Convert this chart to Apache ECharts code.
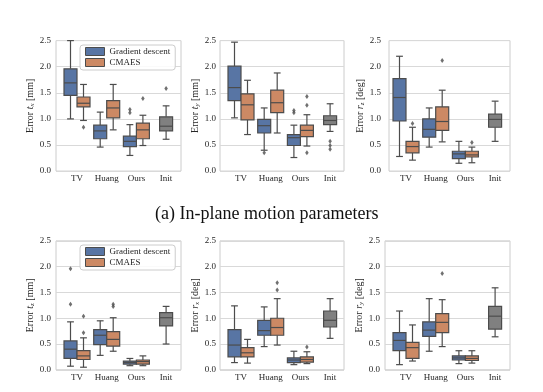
<!DOCTYPE html>
<html>
<head>
<meta charset="utf-8">
<script src="https://cdn.jsdelivr.net/npm/echarts@6/dist/echarts.min.js"></script>
<style>html,body{margin:0;padding:0;background:#fff;}#c{width:543px;height:392px;}</style>
</head>
<body>
<div id="c"></div>
<script>
// ---------- data ----------
const categories = ['TV', 'Huang', 'Ours', 'Init'];
const seriesNames = ['Gradient descent', 'CMAES'];
const caption = '(a) In-plane motion parameters';
// box data: [min, Q1, median, Q3, max] per category (TV, Huang, Ours)
const tx_gd = [[1.00, 1.45, 1.69, 1.96, 2.50], [0.46, 0.62, 0.77, 0.88, 1.13], [0.30, 0.47, 0.57, 0.67, 0.89]];
const tx_cm = [[0.97, 1.23, 1.30, 1.42, 1.66], [0.79, 1.02, 1.21, 1.35, 1.66], [0.49, 0.62, 0.79, 0.92, 1.07]];
const tx_init = [0.61, 0.77, 0.86, 1.04, 1.25];
const tx_gd_out = [[2, 1.18], [2, 1.12]];
const tx_cm_out = [[0, 0.84], [2, 1.39]];
const tx_init_out = [[3, 1.58]];

const ty_gd = [[1.02, 1.35, 1.60, 2.01, 2.47], [0.40, 0.73, 0.87, 0.99, 1.21], [0.26, 0.49, 0.64, 0.70, 0.88]];
const ty_cm = [[0.70, 0.98, 1.27, 1.48, 1.74], [0.73, 1.12, 1.31, 1.55, 1.88], [0.48, 0.66, 0.78, 0.88, 1.08]];
const ty_init = [0.76, 0.89, 0.97, 1.06, 1.29];
const ty_gd_out = [[1, 0.35], [2, 1.16], [2, 1.12]];
const ty_cm_out = [[2, 1.43], [2, 1.26], [2, 0.35]];
const ty_init_out = [[3, 0.57], [3, 0.49], [3, 0.42]];

const rz_gd = [[0.28, 0.96, 1.41, 1.77, 2.20], [0.46, 0.65, 0.80, 1.00, 1.21], [0.15, 0.24, 0.33, 0.38, 0.57]];
const rz_cm = [[0.21, 0.35, 0.47, 0.57, 0.84], [0.56, 0.78, 0.95, 1.23, 1.55], [0.16, 0.27, 0.31, 0.38, 0.46]];
const rz_init = [0.57, 0.84, 0.99, 1.09, 1.34];
const rz_gd_out = [];
const rz_cm_out = [[0, 0.91], [1, 2.12], [2, 0.55]];
const rz_init_out = [];

const tz_gd = [[0.07, 0.22, 0.40, 0.56, 0.93], [0.28, 0.49, 0.67, 0.78, 0.95], [0.08, 0.11, 0.14, 0.17, 0.22]];
const tz_cm = [[0.05, 0.20, 0.27, 0.37, 0.62], [0.36, 0.46, 0.59, 0.74, 1.01], [0.08, 0.11, 0.16, 0.19, 0.27]];
const tz_init = [0.50, 0.85, 1.01, 1.11, 1.23];
const tz_gd_out = [[0, 1.96], [0, 1.27]];
const tz_cm_out = [[0, 1.04], [0, 0.72], [1, 1.27], [1, 1.23]];
const tz_init_out = [];

const rx_gd = [[0.14, 0.25, 0.48, 0.78, 1.24], [0.45, 0.67, 0.76, 0.96, 1.22], [0.10, 0.14, 0.19, 0.23, 0.36]];
const rx_cm = [[0.13, 0.25, 0.33, 0.43, 0.59], [0.48, 0.67, 0.82, 1.00, 1.38], [0.12, 0.15, 0.20, 0.25, 0.35]];
const rx_init = [0.61, 0.83, 0.96, 1.14, 1.38];
const rx_gd_out = [];
const rx_cm_out = [[1, 1.69], [1, 1.55], [2, 0.44]];
const rx_init_out = [];

const ry_gd = [[0.10, 0.37, 0.57, 0.72, 1.14], [0.36, 0.65, 0.77, 0.93, 1.38], [0.12, 0.19, 0.23, 0.27, 0.37]];
const ry_cm = [[0.17, 0.22, 0.43, 0.53, 0.87], [0.45, 0.72, 0.92, 1.09, 1.36], [0.13, 0.18, 0.22, 0.27, 0.37]];
const ry_init = [0.64, 0.79, 1.04, 1.23, 1.59];
const ry_gd_out = [];
const ry_cm_out = [[1, 1.87]];
const ry_init_out = [];

// ---------- styling / layout ----------
const FONT = '"Liberation Serif", "DejaVu Serif", serif';
const BLUE = '#5875a4', ORANGE = '#cc8964', GRAY = '#808080', EDGE = '#4c4c4c';
const TXT = '#262626';
const BAND = 29.7, HALF = 6.5, CAP = 3.4;
const rows = [{top: 40.6, h: 130.5}, {top: 240.9, h: 128.9}];

const panels = [
  {row: 0, fl: 56, fr: 181, tv: 77, lm: 5, ng: 18, name: 'Error {i|t}{s|x} [mm]', gd: tx_gd, cm: tx_cm, init: tx_init, gdo: tx_gd_out, cmo: tx_cm_out, io: tx_init_out},
  {row: 0, fl: 220, fr: 344, tv: 241, lm: 4, ng: 19, name: 'Error {i|t}{s|y} [mm]', gd: ty_gd, cm: ty_cm, init: ty_init, gdo: ty_gd_out, cmo: ty_cm_out, io: ty_init_out},
  {row: 0, fl: 389, fr: 510, tv: 406, lm: 8, ng: 23, name: 'Error {i|r}{s|z} [deg]', gd: rz_gd, cm: rz_cm, init: rz_init, gdo: rz_gd_out, cmo: rz_cm_out, io: rz_init_out},
  {row: 1, fl: 56, fr: 181, tv: 77, lm: 5, ng: 18, name: 'Error {i|t}{s|z} [mm]', gd: tz_gd, cm: tz_cm, init: tz_init, gdo: tz_gd_out, cmo: tz_cm_out, io: tz_init_out},
  {row: 1, fl: 220, fr: 344, tv: 241, lm: 4, ng: 19, name: 'Error {i|r}{s|x} [deg]', gd: rx_gd, cm: rx_cm, init: rx_init, gdo: rx_gd_out, cmo: rx_cm_out, io: rx_init_out},
  {row: 1, fl: 385, fr: 510, tv: 406, lm: 5, ng: 18, name: 'Error {i|r}{s|y} [deg]', gd: ry_gd, cm: ry_cm, init: ry_init, gdo: ry_gd_out, cmo: ry_cm_out, io: ry_init_out}
];

function boxRender(off, fill) {
  return function (params, api) {
    const x = api.value(0);
    const ys = [1, 2, 3, 4, 5].map(function (j) { return api.coord([x, api.value(j)]); });
    const cx = ys[0][0] + off;
    const y = ys.map(function (q) { return q[1]; });
    const ls = {stroke: EDGE, lineWidth: 1.2};
    return {
      type: 'group',
      children: [
        {type: 'line', shape: {x1: cx, y1: y[0], x2: cx, y2: y[1]}, style: ls},
        {type: 'line', shape: {x1: cx, y1: y[3], x2: cx, y2: y[4]}, style: ls},
        {type: 'line', shape: {x1: cx - CAP, y1: y[0], x2: cx + CAP, y2: y[0]}, style: ls},
        {type: 'line', shape: {x1: cx - CAP, y1: y[4], x2: cx + CAP, y2: y[4]}, style: ls},
        {type: 'rect', shape: {x: cx - HALF, y: y[3], width: 2 * HALF, height: y[1] - y[3]}, style: {fill: fill, stroke: EDGE, lineWidth: 1.2}},
        {type: 'line', shape: {x1: cx - HALF, y1: y[2], x2: cx + HALF, y2: y[2]}, style: ls}
      ]
    };
  };
}

const grid = [], xAxis = [], yAxis = [], series = [];
panels.forEach(function (p) {
  const r = rows[p.row];
  // frame grid with y ticks and grid lines
  grid.push({left: p.fl, top: r.top, width: p.fr - p.fl, height: r.h, show: true, borderColor: '#cccccc', borderWidth: 1, backgroundColor: 'transparent'});
  const gF = grid.length - 1;
  xAxis.push({gridIndex: gF, type: 'value', min: 0, max: 1, show: false});
  yAxis.push({
    gridIndex: gF, type: 'value', min: 0, max: 2.5, interval: 0.5,
    axisLine: {show: false}, axisTick: {show: false},
    axisLabel: {fontFamily: FONT, fontSize: 9, color: TXT, margin: p.lm, formatter: function (v) { return v.toFixed(1); }},
    splitLine: {lineStyle: {color: '#d9d9d9', width: 1}},
    name: p.name, nameLocation: 'middle', nameGap: p.ng, nameRotate: 90,
    nameTextStyle: {fontFamily: FONT, fontSize: 10, color: TXT,
      rich: {i: {fontFamily: FONT, fontSize: 10, fontStyle: 'italic', color: TXT},
             s: {fontFamily: FONT, fontSize: 7, fontStyle: 'italic', color: TXT, padding: [4, 0, 0, 0]}}}
  });
  // data grid with categories
  grid.push({left: p.tv - BAND / 2, top: r.top, width: 4 * BAND, height: r.h});
  const gD = grid.length - 1;
  xAxis.push({gridIndex: gD, type: 'category', data: categories,
    axisLine: {show: false}, axisTick: {show: false}, splitLine: {show: false},
    axisLabel: {interval: 0, fontFamily: FONT, fontSize: 9, color: TXT, margin: 3}});
  yAxis.push({gridIndex: gD, type: 'value', min: 0, max: 2.5, show: false});
  const ax = xAxis.length - 1, ay = yAxis.length - 1;
  const groups = [
    {name: seriesNames[0], data: p.gd.map(function (v, i) { return [i].concat(v); }), off: -HALF, color: BLUE, out: p.gdo},
    {name: seriesNames[1], data: p.cm.map(function (v, i) { return [i].concat(v); }), off: HALF, color: ORANGE, out: p.cmo},
    {name: 'Init', data: [[3].concat(p.init)], off: 0, color: GRAY, out: p.io}
  ];
  groups.forEach(function (g) {
    series.push({
      type: 'custom', name: g.name, xAxisIndex: ax, yAxisIndex: ay,
      data: g.data, encode: {x: 0, y: [1, 2, 3, 4, 5]},
      renderItem: boxRender(g.off, g.color), itemStyle: {color: g.color}, silent: true, z: 3
    });
    series.push({
      type: 'scatter', xAxisIndex: ax, yAxisIndex: ay, data: g.out,
      symbol: 'diamond', symbolSize: [3.5, 5], symbolOffset: [g.off, 0],
      itemStyle: {color: EDGE}, silent: true, z: 4
    });
  });
});

function legendAt(top) {
  return {
    left: 80, top: top, orient: 'vertical', icon: 'rect',
    itemWidth: 19, itemHeight: 8, itemGap: 2,
    padding: [2, 5, 3, 5], backgroundColor: 'rgba(255,255,255,0.85)',
    borderColor: '#cccccc', borderWidth: 1, borderRadius: 3,
    textStyle: {fontFamily: FONT, fontSize: 9, color: TXT, padding: [0, 0, 0, 0]},
    selectedMode: false,
    data: [
      {name: seriesNames[0], itemStyle: {color: BLUE, borderColor: EDGE, borderWidth: 1}},
      {name: seriesNames[1], itemStyle: {color: ORANGE, borderColor: EDGE, borderWidth: 1}}
    ]
  };
}

const chart = echarts.init(document.getElementById('c'), null, {renderer: 'canvas'});
chart.setOption({
  backgroundColor: '#ffffff',
  animation: false,
  legend: [legendAt(45), legendAt(245)],
  grid: grid, xAxis: xAxis, yAxis: yAxis, series: series,
  graphic: [{type: 'text', left: 155, top: 205, style: {text: caption, font: '18px "Liberation Serif"', fill: '#111'}}]
});
</script>
</body>
</html>
